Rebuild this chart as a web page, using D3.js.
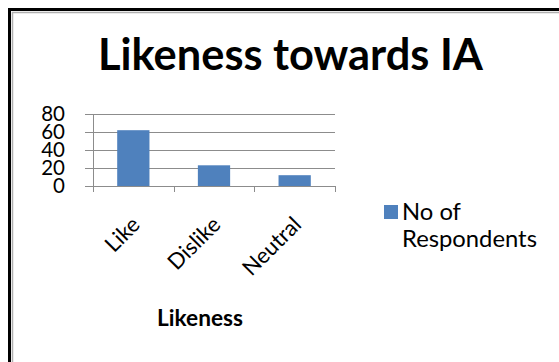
<!DOCTYPE html>
<html>
<head>
<meta charset="utf-8">
<script src="https://cdn.jsdelivr.net/npm/d3@7"></script>
<style>
  html, body { margin: 0; padding: 0; background: #fff; }
  svg { display: block; }
  text { font-family: Lato, "Open Sans", sans-serif; fill: #000; }
</style>
</head>
<body>
<svg id="chart" width="559" height="362"></svg>
<script>
// Chart data
const categories = ["Like", "Dislike", "Neutral"];
const respondents = [62, 23, 12];
const yTicks = [0, 20, 40, 60, 80];
const seriesName = "No of Respondents";
const chartTitle = "Likeness towards IA";
const xTitle = "Likeness";

const svg = d3.select("#chart");
const W = 559, H = 362;

// Frame: heavy black border with a thin grey inner line
svg.append("rect").attr("x", 0).attr("y", 0).attr("width", W).attr("height", H).attr("fill", "#fff");
svg.append("rect")
  .attr("x", 9.5).attr("y", 9.5).attr("width", 700).attr("height", 500)
  .attr("fill", "none").attr("stroke", "#000").attr("stroke-width", 3);
svg.append("path")
  .attr("d", `M12.5,${H} V12.5 H${W}`)
  .attr("fill", "none").attr("stroke", "#b0b0b0").attr("stroke-width", 1.5);

// Fit a text element's font-size so its measured width equals target
function fitWidth(sel, target) {
  const node = sel.node();
  const fs = parseFloat(sel.attr("font-size"));
  const w = node.getComputedTextLength();
  sel.attr("font-size", (fs * target / w).toFixed(2));
}

// Plot area
const x = d3.scaleBand().domain(categories).range([93, 335]).paddingInner(0.6).paddingOuter(0.3);
const y = d3.scaleLinear().domain([0, 80]).range([186, 114]);
const gridColor = "#8c8c8c";

// Y tick marks
const yAxis = d3.axisLeft(y).tickValues(yTicks).tickSize(8).tickFormat("");
const gy = svg.append("g").attr("transform", "translate(93,0)").call(yAxis);
gy.selectAll("line").attr("stroke", gridColor).attr("shape-rendering", "crispEdges");
gy.select(".domain").remove();
gy.selectAll(".tick").attr("transform", d => `translate(0,${Math.round(y(d)) + 0.5})`);

// Horizontal gridlines
svg.append("g").selectAll("line").data(yTicks).join("line")
  .attr("x1", 93).attr("x2", 335)
  .attr("y1", d => Math.round(y(d)) + 0.5).attr("y2", d => Math.round(y(d)) + 0.5)
  .attr("stroke", gridColor);

// Y axis line
svg.append("line").attr("x1", 93.5).attr("x2", 93.5).attr("y1", y(80)).attr("y2", y(0) + 6)
  .attr("stroke", gridColor);

// Y tick labels
svg.append("g").selectAll("text").data(yTicks).join("text")
  .attr("x", 65).attr("y", d => y(d))
  .attr("dy", "0.36em")
  .attr("text-anchor", "end")
  .attr("font-size", 20.5)
  .text(d => d);

// Category boundary ticks on the x axis
const bounds = [93].concat(categories.map(c => x(c) - x.step() * x.paddingInner() / 2 + x.step()));
svg.append("g").selectAll("line").data(bounds).join("line")
  .attr("x1", d => Math.round(d) + 0.5).attr("x2", d => Math.round(d) + 0.5)
  .attr("y1", y(0)).attr("y2", y(0) + 6)
  .attr("stroke", gridColor);

// Bars
svg.append("g").selectAll("rect").data(categories).join("rect")
  .attr("x", d => x(d))
  .attr("y", (d, i) => y(respondents[i]))
  .attr("width", x.bandwidth())
  .attr("height", (d, i) => y(0) - y(respondents[i]))
  .attr("fill", "#4f81bd");

// Rotated category labels
svg.append("g").selectAll("text").data(categories).join("text")
  .attr("transform", d => `translate(${x(d) + x.bandwidth() / 2 + 8},226) rotate(-45)`)
  .attr("text-anchor", "end")
  .attr("font-size", 22)
  .text(d => d);

// Title
const title = svg.append("text")
  .attr("x", 98).attr("y", 70)
  .attr("font-size", 36).attr("font-weight", "bold")
  .text(chartTitle);
fitWidth(title, 385);

// Axis title
const xt = svg.append("text")
  .attr("x", 157).attr("y", 326)
  .attr("font-size", 22).attr("font-weight", "bold")
  .text(xTitle);
fitWidth(xt, 86);

// Legend
svg.append("rect").attr("x", 384).attr("y", 205).attr("width", 14).attr("height", 14).attr("fill", "#4f81bd");
const words = seriesName.split(" ");
const l1 = svg.append("text").attr("x", 402).attr("y", 220).attr("font-size", 24)
  .text(words.slice(0, 2).join(" "));
const l2 = svg.append("text").attr("x", 402).attr("y", 247).attr("font-size", 24)
  .text(words.slice(2).join(" "));
fitWidth(l2, 135);
l1.attr("font-size", l2.attr("font-size"));
</script>
</body>
</html>
